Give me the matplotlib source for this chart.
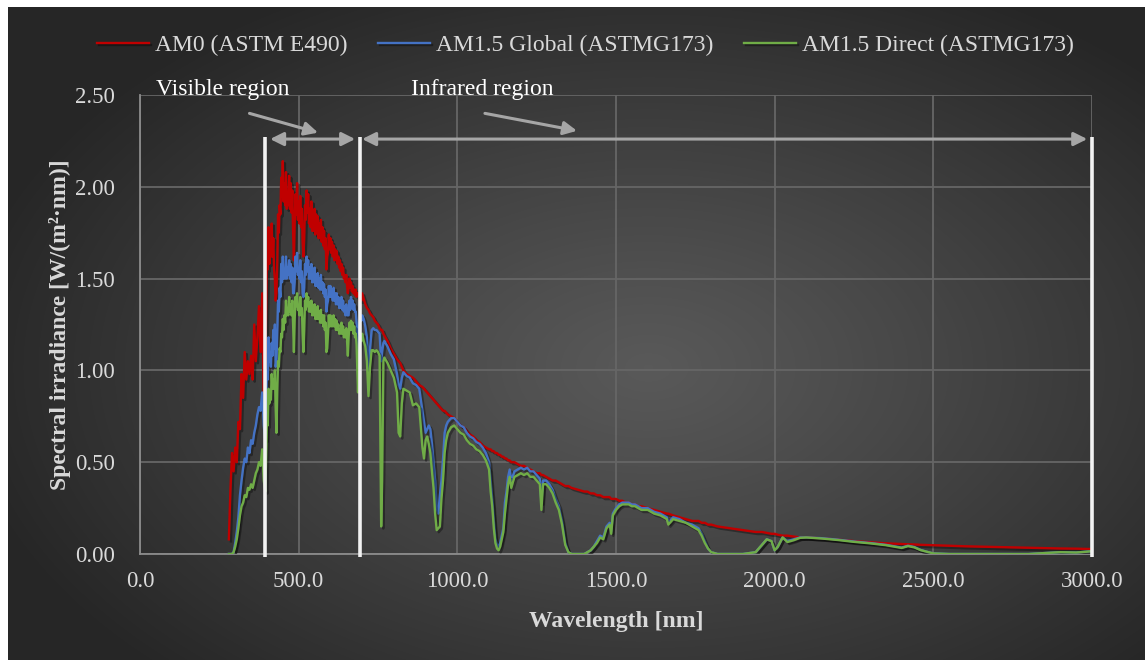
import numpy as np
import matplotlib
matplotlib.use('Agg')
import matplotlib.pyplot as plt
import matplotlib.patheffects as pe
from matplotlib.colors import LinearSegmentedColormap
from matplotlib.ticker import FormatStrFormatter

# wavelength grid (nm) and spectral irradiance, W/(m2 nm)
wl = [280, 285, 290, 295, 300, 305, 310, 315, 320, 325, 330, 335, 340, 345, 350,
      355, 360, 365, 370, 375, 380, 385, 390, 395, 400, 405, 410, 415, 420, 425,
      430, 435, 440, 445, 450, 455, 460, 465, 470, 475, 480, 485, 490, 495, 500,
      505, 510, 515, 520, 525, 530, 535, 540, 545, 550, 555, 560, 565, 570, 575,
      580, 585, 590, 595, 600, 605, 610, 615, 620, 625, 630, 635, 640, 645, 650,
      655, 660, 665, 670, 675, 680, 685, 687, 690, 695, 700, 705, 710, 715, 720,
      725, 730, 735, 740, 745, 750, 755, 760, 763, 767, 770, 780, 790, 800, 810,
      815, 820, 825, 830, 840, 850, 860, 870, 880, 890, 895, 900, 905, 910, 915,
      920, 925, 930, 935, 940, 945, 950, 955, 960, 965, 970, 980, 990, 1000, 1010,
      1020, 1030, 1040, 1050, 1060, 1070, 1080, 1090, 1100, 1105, 1110, 1115, 1120, 1125, 1130,
      1135, 1140, 1145, 1150, 1155, 1160, 1165, 1170, 1180, 1190, 1200, 1210, 1220, 1230, 1240,
      1250, 1260, 1265, 1270, 1280, 1290, 1300, 1310, 1320, 1330, 1340, 1350, 1360, 1380, 1400,
      1410, 1420, 1430, 1440, 1450, 1460, 1470, 1480, 1485, 1490, 1500, 1510, 1520, 1530, 1540,
      1550, 1560, 1570, 1580, 1600, 1620, 1640, 1660, 1665, 1680, 1700, 1720, 1740, 1760, 1770,
      1780, 1790, 1800, 1820, 1900, 1940, 1960, 1975, 1990, 2000, 2010, 2025, 2040, 2060, 2080,
      2100, 2150, 2200, 2250, 2300, 2350, 2400, 2420, 2440, 2460, 2480, 2500, 2550, 2600, 2700,
      2800, 2850, 2900, 2950, 3000]

am0 = [0.08, 0.35, 0.55, 0.45, 0.58, 0.50, 0.72, 0.68, 0.98, 0.85, 1.10, 0.95, 1.05, 0.98, 1.08,
       0.95, 1.25, 1.05, 1.18, 1.35, 1.10, 1.42, 0.80, 1.05, 1.60, 1.78, 1.65, 1.80, 1.72, 1.50,
       1.42, 1.85, 1.90, 2.05, 2.14, 2.02, 2.08, 1.95, 2.06, 2.02, 1.98, 1.60, 1.96, 2.02, 1.92,
       1.95, 1.88, 1.62, 1.90, 1.98, 1.96, 1.88, 1.92, 1.86, 1.88, 1.85, 1.84, 1.80, 1.82, 1.78,
       1.76, 1.72, 1.62, 1.74, 1.72, 1.70, 1.68, 1.66, 1.65, 1.62, 1.60, 1.58, 1.56, 1.52, 1.52,
       1.42, 1.50, 1.48, 1.46, 1.44, 1.44, 1.42, 1.41, 1.42, 1.40, 1.42, 1.39, 1.36, 1.34, 1.33,
       1.31, 1.30, 1.29, 1.27, 1.26, 1.25, 1.23, 1.22, 1.22, 1.20, 1.19, 1.16, 1.12, 1.09, 1.06,
       1.05, 1.04, 1.02, 1.00, 0.98, 0.97, 0.96, 0.94, 0.92, 0.91, 0.90, 0.89, 0.88, 0.87, 0.86,
       0.85, 0.84, 0.83, 0.82, 0.81, 0.80, 0.79, 0.78, 0.78, 0.77, 0.76, 0.75, 0.74, 0.72, 0.70,
       0.69, 0.67, 0.65, 0.64, 0.62, 0.61, 0.59, 0.58, 0.57, 0.57, 0.56, 0.56, 0.55, 0.55, 0.54,
       0.54, 0.53, 0.53, 0.52, 0.52, 0.51, 0.51, 0.50, 0.50, 0.49, 0.48, 0.48, 0.47, 0.46, 0.45,
       0.44, 0.44, 0.43, 0.43, 0.42, 0.41, 0.40, 0.40, 0.39, 0.38, 0.37, 0.37, 0.36, 0.35, 0.34,
       0.34, 0.33, 0.33, 0.32, 0.32, 0.31, 0.31, 0.31, 0.30, 0.30, 0.30, 0.29, 0.29, 0.28, 0.28,
       0.27, 0.27, 0.26, 0.26, 0.25, 0.24, 0.23, 0.22, 0.22, 0.21, 0.20, 0.19, 0.18, 0.18, 0.17,
       0.17, 0.16, 0.16, 0.15, 0.13, 0.12, 0.12, 0.115, 0.11, 0.11, 0.105, 0.10, 0.10, 0.095, 0.09,
       0.09, 0.085, 0.078, 0.07, 0.064, 0.058, 0.054, 0.053, 0.052, 0.05, 0.049, 0.048, 0.045, 0.042, 0.038,
       0.034, 0.032, 0.030, 0.029, 0.027]

glob = [0.0, 0.0, 0.0, 0.01, 0.06, 0.12, 0.20, 0.32, 0.40, 0.47, 0.52, 0.50, 0.58, 0.55, 0.62,
        0.60, 0.66, 0.70, 0.76, 0.80, 0.78, 0.88, 0.70, 0.62, 1.00, 1.18, 1.10, 1.15, 1.22, 1.25,
        1.05, 1.38, 1.45, 1.58, 1.62, 1.55, 1.62, 1.56, 1.60, 1.58, 1.56, 1.42, 1.62, 1.64, 1.55,
        1.60, 1.54, 1.40, 1.58, 1.62, 1.60, 1.56, 1.58, 1.52, 1.56, 1.52, 1.53, 1.50, 1.52, 1.48,
        1.47, 1.44, 1.36, 1.46, 1.46, 1.44, 1.45, 1.42, 1.42, 1.40, 1.38, 1.40, 1.38, 1.35, 1.36,
        1.30, 1.38, 1.40, 1.38, 1.36, 1.32, 1.18, 1.02, 1.22, 1.30, 1.30, 1.28, 1.24, 1.18, 1.00,
        1.12, 1.22, 1.23, 1.22, 1.22, 1.21, 1.20, 1.05, 1.10, 1.15, 1.16, 1.13, 1.09, 1.06, 0.98,
        0.92, 0.90, 0.96, 0.99, 0.97, 0.96, 0.93, 0.92, 0.90, 0.78, 0.72, 0.66, 0.68, 0.70, 0.68,
        0.60, 0.50, 0.40, 0.25, 0.22, 0.32, 0.40, 0.52, 0.66, 0.70, 0.72, 0.74, 0.74, 0.72, 0.70,
        0.69, 0.66, 0.64, 0.63, 0.61, 0.60, 0.58, 0.55, 0.50, 0.40, 0.30, 0.18, 0.08, 0.05, 0.04,
        0.06, 0.10, 0.14, 0.28, 0.34, 0.42, 0.46, 0.40, 0.45, 0.46, 0.47, 0.46, 0.47, 0.45, 0.45,
        0.43, 0.41, 0.28, 0.40, 0.40, 0.38, 0.35, 0.30, 0.26, 0.18, 0.06, 0.01, 0.0, 0.0, 0.0,
        0.01, 0.02, 0.04, 0.07, 0.10, 0.09, 0.15, 0.17, 0.12, 0.22, 0.25, 0.27, 0.28, 0.28, 0.28,
        0.27, 0.27, 0.26, 0.25, 0.25, 0.23, 0.22, 0.20, 0.17, 0.20, 0.19, 0.17, 0.16, 0.14, 0.11,
        0.07, 0.03, 0.01, 0.0, 0.0, 0.01, 0.05, 0.08, 0.07, 0.02, 0.04, 0.09, 0.07, 0.08, 0.09,
        0.09, 0.086, 0.078, 0.068, 0.06, 0.05, 0.035, 0.045, 0.038, 0.022, 0.012, 0.003, 0.0, 0.0, 0.0,
        0.0, 0.005, 0.01, 0.008, 0.015]

direct = [0.0, 0.0, 0.0, 0.01, 0.04, 0.08, 0.14, 0.21, 0.26, 0.28, 0.32, 0.31, 0.36, 0.35, 0.38,
          0.36, 0.40, 0.44, 0.46, 0.50, 0.48, 0.57, 0.40, 0.34, 0.72, 0.90, 0.88, 0.98, 0.95, 1.00,
          0.66, 1.05, 1.12, 1.20, 1.28, 1.30, 1.38, 1.32, 1.40, 1.36, 1.38, 1.10, 1.40, 1.42, 1.34,
          1.40, 1.34, 1.10, 1.38, 1.42, 1.40, 1.37, 1.38, 1.35, 1.36, 1.34, 1.35, 1.32, 1.33, 1.30,
          1.30, 1.26, 1.12, 1.30, 1.30, 1.28, 1.30, 1.28, 1.27, 1.25, 1.22, 1.26, 1.24, 1.22, 1.23,
          1.08, 1.26, 1.27, 1.26, 1.24, 1.20, 1.00, 0.88, 1.08, 1.18, 1.20, 1.16, 1.13, 1.05, 0.86,
          1.02, 1.11, 1.11, 1.10, 1.11, 1.10, 1.08, 0.15, 0.40, 1.05, 1.07, 1.04, 1.00, 0.96, 0.88,
          0.66, 0.64, 0.82, 0.90, 0.89, 0.88, 0.81, 0.82, 0.80, 0.58, 0.52, 0.62, 0.64, 0.60, 0.55,
          0.45, 0.36, 0.22, 0.13, 0.14, 0.15, 0.30, 0.40, 0.55, 0.62, 0.66, 0.69, 0.70, 0.68, 0.66,
          0.65, 0.62, 0.60, 0.59, 0.57, 0.56, 0.54, 0.51, 0.46, 0.34, 0.26, 0.14, 0.06, 0.03, 0.02,
          0.04, 0.08, 0.12, 0.22, 0.30, 0.38, 0.42, 0.36, 0.42, 0.43, 0.44, 0.43, 0.44, 0.42, 0.42,
          0.40, 0.38, 0.24, 0.38, 0.38, 0.36, 0.33, 0.28, 0.24, 0.16, 0.05, 0.01, 0.0, 0.0, 0.0,
          0.01, 0.02, 0.04, 0.06, 0.09, 0.08, 0.14, 0.16, 0.11, 0.21, 0.24, 0.26, 0.27, 0.27, 0.27,
          0.26, 0.26, 0.25, 0.24, 0.24, 0.22, 0.21, 0.19, 0.16, 0.19, 0.18, 0.17, 0.15, 0.13, 0.10,
          0.06, 0.03, 0.01, 0.0, 0.0, 0.01, 0.05, 0.08, 0.07, 0.02, 0.04, 0.09, 0.065, 0.075, 0.088,
          0.09, 0.084, 0.076, 0.066, 0.058, 0.048, 0.033, 0.043, 0.036, 0.021, 0.012, 0.003, 0.0, 0.0, 0.0,
          0.0, 0.005, 0.01, 0.008, 0.015]

# extra in-between samples in the noisy visible band (troughs of the fine structure)
wl_mid = [402.5, 407.5, 412.5, 417.5, 422.5, 427.5, 432.5, 437.5, 442.5, 447.5,
          452.5, 457.5, 462.5, 467.5, 472.5, 477.5, 482.5, 487.5, 492.5, 497.5,
          502.5, 507.5, 512.5, 517.5, 522.5, 527.5, 532.5, 537.5, 542.5, 547.5,
          552.5, 557.5, 562.5, 567.5, 572.5, 577.5, 582.5, 587.5, 592.5, 597.5,
          602.5, 607.5, 612.5, 617.5, 622.5, 627.5, 632.5, 637.5, 642.5, 647.5,
          652.5, 657.5, 662.5, 667.5, 672.5, 677.5, 682.5, 692.5, 697.5]
am0_mid = [1.55, 1.58, 1.62, 1.62, 1.55, 1.38, 1.58, 1.75, 1.85, 1.95,
           1.92, 1.90, 1.88, 1.90, 1.88, 1.86, 1.75, 1.80, 1.85, 1.82,
           1.80, 1.78, 1.70, 1.72, 1.82, 1.86, 1.80, 1.78, 1.76, 1.76,
           1.74, 1.75, 1.72, 1.72, 1.70, 1.68, 1.66, 1.55, 1.64, 1.66,
           1.64, 1.62, 1.60, 1.60, 1.58, 1.56, 1.54, 1.52, 1.50, 1.48,
           1.46, 1.45, 1.45, 1.43, 1.42, 1.41, 1.40, 1.38, 1.38]
glob_mid = [0.95, 1.05, 1.02, 1.08, 1.12, 1.02, 1.20, 1.32, 1.40, 1.48,
            1.50, 1.50, 1.50, 1.52, 1.50, 1.48, 1.42, 1.48, 1.54, 1.52,
            1.50, 1.48, 1.42, 1.45, 1.52, 1.54, 1.50, 1.50, 1.48, 1.48,
            1.46, 1.46, 1.45, 1.44, 1.44, 1.42, 1.40, 1.32, 1.38, 1.40,
            1.40, 1.38, 1.38, 1.36, 1.36, 1.34, 1.34, 1.33, 1.32, 1.30,
            1.30, 1.30, 1.33, 1.34, 1.33, 1.32, 1.26, 1.26, 1.27]
direct_mid = [0.70, 0.82, 0.84, 0.90, 0.90, 0.80, 0.88, 1.02, 1.10, 1.18,
              1.22, 1.26, 1.30, 1.30, 1.32, 1.30, 1.25, 1.28, 1.35, 1.33,
              1.30, 1.30, 1.20, 1.22, 1.33, 1.35, 1.32, 1.32, 1.30, 1.30,
              1.28, 1.28, 1.28, 1.26, 1.26, 1.24, 1.22, 1.10, 1.20, 1.24,
              1.24, 1.24, 1.24, 1.22, 1.22, 1.20, 1.20, 1.20, 1.18, 1.18,
              1.16, 1.18, 1.22, 1.22, 1.20, 1.18, 1.14, 1.14, 1.16]

labels = ['AM0 (ASTM E490)', 'AM1.5 Global (ASTMG173)', 'AM1.5 Direct (ASTMG173)']
colors = ['#c00000', '#4472c4', '#70ad47']

# merge main grid and in-between samples
x_all = np.array(wl + wl_mid, dtype=float)
order = np.argsort(x_all)
x_all = x_all[order]
series = [np.array(am0 + am0_mid)[order],
          np.array(glob + glob_mid)[order],
          np.array(direct + direct_mid)[order]]

plt.rcParams['font.family'] = ['Liberation Serif', 'DejaVu Serif']

W, H = 1145, 660
fig = plt.figure(figsize=(W / 100, H / 100), dpi=100, facecolor='white')

# dark radial background panel
bg = fig.add_axes([8 / W, 0, 1 - 8 / W, 1 - 7 / H], zorder=-5)
yy, xx = np.mgrid[0:653, 0:1137]
r = np.sqrt(((xx - 640) / 700.0) ** 2 + ((yy - 360) / 430.0) ** 2)
r = np.clip(r, 0, 1) ** 1.1
cmap = LinearSegmentedColormap.from_list('bg', ['#595959', '#262626'])
bg.imshow(r, cmap=cmap, vmin=0, vmax=1, aspect='auto', interpolation='bilinear')
bg.axis('off')

ax = fig.add_axes([140 / W, (H - 554) / H, 952 / W, 459 / H])
ax.set_facecolor('none')

shadow = [pe.SimpleLineShadow(offset=(1.5, -1.5), shadow_color='black', alpha=0.35), pe.Normal()]
for y, c, lab in zip(series, colors, labels):
    ax.plot(x_all, y, color=c, lw=1.7, label=lab, path_effects=shadow, zorder=3)

ax.set_xlim(0, 3000)
ax.set_ylim(0, 2.5)
ax.set_xticks(np.arange(0, 3001, 500))
ax.set_yticks(np.arange(0, 2.51, 0.5))
ax.xaxis.set_major_formatter(FormatStrFormatter('%.1f'))
ax.yaxis.set_major_formatter(FormatStrFormatter('%.2f'))
ax.grid(True, color='#666666', lw=1.3, zorder=0)
ax.set_axisbelow(True)
for s in ['top', 'right']:
    ax.spines[s].set_visible(False)
for s in ['left', 'bottom']:
    ax.spines[s].set_color('#8c8c8c')
    ax.spines[s].set_linewidth(1.3)
ax.tick_params(length=0, labelsize=16.5, labelcolor='#d9d9d9')
ax.tick_params(axis='x', pad=12)
ax.tick_params(axis='y', pad=18)

ax.set_xlabel('Wavelength [nm]', fontsize=17, fontweight='bold', color='#d9d9d9', labelpad=14)
ax.set_ylabel('Spectral irradiance [W/(m²·nm)]', fontsize=17, fontweight='bold',
              color='#d9d9d9', labelpad=3)

# region markers
for xv in [395, 693, 3000]:
    ax.plot([xv, xv], [-0.015, 2.27], color='#f2f2f2', lw=2.6, zorder=4, clip_on=False,
            solid_capstyle='butt')

arrow_kw = dict(arrowstyle='<|-|>,head_length=0.8,head_width=0.4', color='#a6a6a6', lw=2.2,
                shrinkA=0, shrinkB=0)
ax.annotate('', xy=(678, 2.26), xytext=(410, 2.26), arrowprops=arrow_kw, annotation_clip=False)
ax.annotate('', xy=(2985, 2.26), xytext=(700, 2.26), arrowprops=arrow_kw, annotation_clip=False)

diag_kw = dict(arrowstyle='-|>,head_length=0.8,head_width=0.4', color='#a6a6a6', lw=2.2,
               shrinkA=0, shrinkB=0)
ax.annotate('', xy=(561, 2.295), xytext=(345, 2.40), arrowprops=diag_kw, annotation_clip=False)
ax.annotate('', xy=(1377, 2.305), xytext=(1087, 2.40), arrowprops=diag_kw, annotation_clip=False)

ax.text(262, 2.53, 'Visible region', color='white', fontsize=17, ha='center', va='center',
        clip_on=False)
ax.text(1078, 2.53, 'Infrared region', color='white', fontsize=17, ha='center', va='center',
        clip_on=False)

leg = fig.legend(loc='center', bbox_to_anchor=(0.511, 1 - 45 / H), ncol=3, frameon=False,
                 fontsize=17, handlelength=2.2, columnspacing=1.3, handletextpad=0.25)
for t in leg.get_texts():
    t.set_color('#d9d9d9')

fig.savefig('out.png', dpi=100, facecolor=fig.get_facecolor())
